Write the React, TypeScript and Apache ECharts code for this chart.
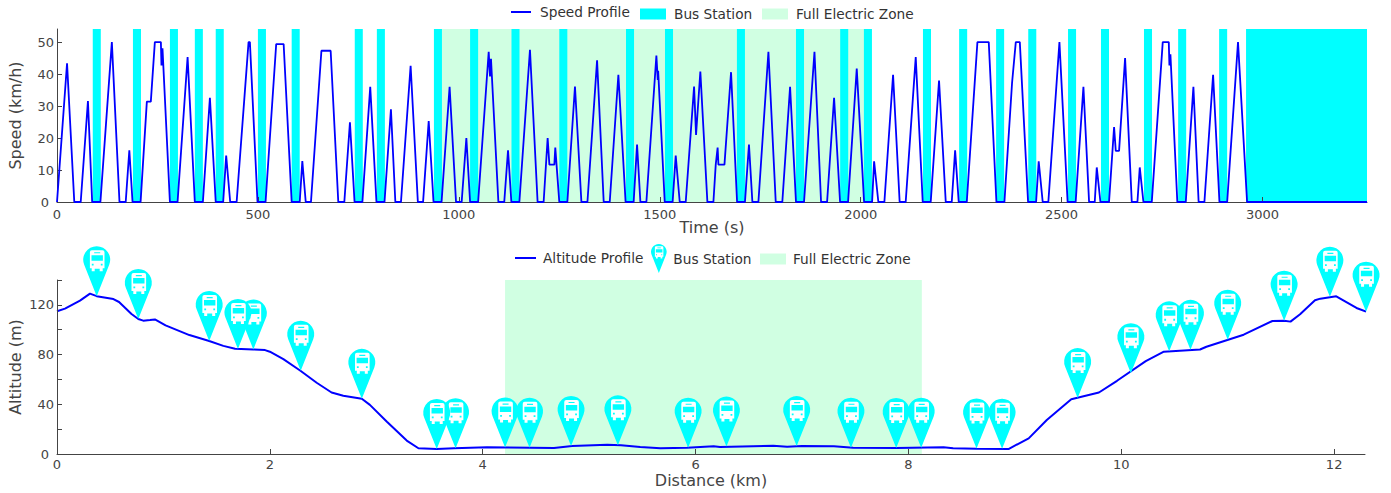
import React, { useEffect, useRef } from "react";
import * as echarts from "echarts";

const FONT = "DejaVu Sans";
const BLUE = "#0000ff";
const CYAN = "#00ffff";
const GREEN = "#d0ffe2";
const INK = "#444444";

const speedProfile = [
  [0,0],[25,43.4],[43,0],[59,0],[77,31.6],[87.5,0],[108,0],[136.5,50],[155.5,0],[171,0],[180,16.2],[188,0],[208,0],
  [223.6,31.4],[233.5,31.4],[243.5,50],[258.5,50],[260,42.7],[262.5,48.1],[264,48.1],[281,0],[300,0],[325,45.3],[343,0],[363,0],
  [380.5,32.6],[395,0],[413.5,0],[421,14.5],[431,0],[447,0],[476.7,50],[480,50],[499,0],[519,0],[545.5,49.4],[564,49.4],[584,0],[604,0],
  [610.5,12.8],[619,0],[632,0],[658,47.3],[681,47.3],[700,0],[715,0],[729,24.9],[740.5,0],[760,0],[779.5,36],[795,0],[815,0],
  [831,29],[842,0],[856,0],[880,42.6],[898,0],[911,0],[925,25.3],[937,0],[957,0],[977,36],[993,0],[1007,0],[1018.7,20],[1028,0],[1048,0],
  [1074.3,47],[1077.6,39.3],[1080,44.8],[1081.5,44.8],[1098.4,0],[1113,0],[1122.4,16.2],[1130.7,0],[1150.6,0],[1177,47.6],[1196,0],[1211,0],
  [1221,20],[1225.3,11.7],[1237.7,11.7],[1240,17],[1250,0],[1270,0],[1289,36.1],[1305,0],[1320,0],[1344,44.3],[1360.5,0],[1375.5,0],
  [1397,39.8],[1415,0],[1435,0],[1443.5,18],[1451.8,0],[1466.7,0],[1491.6,45.8],[1495,38.2],[1496,41],[1512.4,0],[1532,0],
  [1539.7,14.5],[1549.7,0],[1564.6,0],[1585.4,36.1],[1590.3,21],[1601,40.8],[1618.5,0],[1633.5,0],[1639.3,11.7],[1644,17],[1646,11.7],[1661,11.7],
  [1677.4,40.6],[1692.4,0],[1712,0],[1722,18],[1730.5,0],[1745.5,0],[1770.4,47],[1788.6,0],[1805,0],[1824.3,36],[1839,0],[1859,0],
  [1885,47],[1901.4,0],[1916.4,0],[1933.8,32.6],[1948.7,0],[1968.6,0],[1990.2,41.7],[2008.5,0],[2028.4,0],[2033.4,12.7],[2044,0],[2059,0],
  [2080.6,39.8],[2097,0],[2112,0],[2137,45.3],[2154.4,0],[2174.3,0],[2195,38],[2211.7,0],[2226.6,0],[2235,16.2],[2244,0],[2264,0],
  [2290.5,50],[2318.7,50],[2337.8,0],[2357.7,0],[2376.7,37.2],[2386,50],[2396,50],[2416.6,0],[2436.5,0],[2443,12.7],[2453,0],[2467,0],
  [2494.6,50],[2515,0],[2535,0],[2554.3,36],[2568.4,0],[2582.5,0],[2587.5,10.8],[2596.6,0],[2618,0],[2630.6,23.4],[2634.8,16],[2643,16],
  [2658,45],[2674.6,0],[2688.7,0],[2694.5,10.8],[2703.6,0],[2724.4,0],[2751.7,50],[2766.7,50],[2768.3,42.7],[2770.8,46.2],[2772.5,46.2],[2788,0],[2809,0],
  [2828,36],[2841,0],[2855.4,0],[2877,39.8],[2892.8,0],[2912,0],[2939,50],[2961.6,0],[3260,0],
];

const stationSpans = [
  [89,109],[189,209],[281,301],[343,363],[395,415],[500,520],[584,604],[741,761],[796,816],[938,958],
  [1028,1048],[1131,1151],[1250,1270],[1416,1436],[1513,1533],[1692,1712],[1839,1859],[1949,1969],[2008,2028],
  [2155,2175],[2245,2265],[2337,2357],[2417,2437],[2516,2536],[2598,2618],[2705,2725],[2790,2810],[2892,2912],[2959,3260],
];
const zoneSpanTime = [958, 2028];
const timeTicks = [0, 500, 1000, 1500, 2000, 2500, 3000];
const speedTicks = [0, 10, 20, 30, 40, 50];

const altitudeProfile = [
  [0,114.8],[0.075,117],[0.216,123.4],[0.31,129],[0.373,127],[0.53,124.7],[0.583,122.3],[0.7,112.6],[0.764,108.6],[0.81,107.3],[0.874,107.8],[0.92,108.3],
  [1.02,103.5],[1.244,95.7],[1.43,90.9],[1.563,87],[1.673,84.7],[1.845,84.1],[1.955,83.6],[2,82.3],[2.127,76.3],[2.284,67.2],[2.44,57.3],[2.58,49.5],[2.69,46.8],
  [2.864,44.4],[2.94,39.5],[3.1,26],[3.286,10.8],[3.396,4.6],[3.568,4],[3.73,4.6],[4.04,5.4],[4.45,5.1],[4.67,4.8],[4.84,6.5],[5.17,7.5],[5.3,7],[5.48,5.6],[5.67,4.6],
  [5.92,5.1],[6.17,6.2],[6.23,5.6],[6.73,6.7],[6.86,5.9],[7,6.5],[7.3,6.2],[7.48,5.1],[7.89,4.8],[8.33,5.4],[8.42,4.6],[8.64,4.3],[8.94,4],
  [9.13,12.6],[9.3,27.4],[9.53,44],[9.79,49.5],[9.96,58.9],[10.23,74.7],[10.4,82.3],[10.74,84.1],[10.8,86.3],[11.15,96],[11.42,107],[11.53,107.3],[11.59,106.5],
  [11.68,112.4],[11.82,123.7],[11.87,125],[12.02,126.9],[12.21,117.5],[12.3,114.5],
];
const stationKm = [0.373,0.764,1.43,1.7,1.845,2.29,2.864,3.568,3.745,4.21,4.44,4.83,5.27,5.93,6.29,6.95,7.46,7.885,8.12,8.64,8.88,9.59,10.09,10.45,10.65,11,11.53,11.96,12.3];
const stationAlt = [127,108.6,90.9,84.5,84.1,67,44.4,4,4.6,5.2,5,6.5,7,5.1,6,6.4,5.1,4.8,5,4.4,4.2,45,65,82.6,83.8,92,107.3,126.5,114.5];
const zoneSpanKm = [4.21, 8.126];
const kmTicks = [0, 2, 4, 6, 8, 10, 12];
const altTicks = [0, 20, 40, 60, 80, 100, 120, 140];
const altLabels = [0, 40, 80, 120];

const DROP = "M13.5 50L1 18.6A13.5 13.5 0 1 1 26 18.6Z";
const BUS = "M8.7 4Q6.7 4 6.7 6L6.7 22L8.5 22L8.5 25L11.5 25L11.5 22.5L16.5 22.5L16.5 25L19.5 25L19.5 22L21.3 22L21.3 6Q21.3 4 19.3 4Z";
const BUS_MARKS = "M8.3 9L19.7 9L19.7 14.5L8.3 14.5ZM11 6L17 6L17 7.2L11 7.2ZM8.6 17.5L10.4 17.5L10.4 19.3L8.6 19.3ZM17.6 17.5L19.4 17.5L19.4 19.3L17.6 19.3Z";
const PIN_ICON = "path://" + DROP + BUS + BUS_MARKS;

const axisBase = {
  z: 10,
  nameMoveOverlap: false,
  axisLine: { show: true, onZero: false, lineStyle: { color: INK, width: 1 } },
  axisTick: { show: true, inside: true, length: 5, lineStyle: { color: INK, width: 1 } },
  splitLine: { show: false },
  nameTextStyle: { color: INK, fontFamily: FONT, fontSize: 16 },
};
const plain = (v: number) => String(v);
const labelBase = { color: INK, fontFamily: FONT, fontSize: 13, margin: 6, formatter: plain };
const yLabel = {
  ...labelBase,
  margin: 3,
  formatter: (v: number) => (v === 0 ? "{z|0}" : String(v)),
  rich: { z: { color: INK, fontFamily: FONT, fontSize: 13, padding: [0, 5, 0, 0] } },
};

const legendEntry = (name: string, left: number, top: number, w: number, h: number, icon: string, gap: number) => ({
  left,
  top,
  padding: 0,
  itemWidth: w,
  itemHeight: h,
  selectedMode: false,
  data: [{ name, icon }],
  textStyle: { color: "#333333", fontFamily: FONT, fontSize: 13.7, padding: [0, 0, 0, gap] },
});

export default function App() {
  const ref = useRef<HTMLDivElement>(null);
  useEffect(() => {
    const chart = echarts.init(ref.current!, null, { renderer: "svg" });
    chart.setOption({
      animation: false,
      backgroundColor: "#ffffff",
      grid: [
        { left: 57, right: 24, top: 29, height: 173, outerBoundsMode: "none" },
        { left: 57, right: 26, top: 280, height: 174, outerBoundsMode: "none" },
      ],
      legend: [
        legendEntry("Speed Profile", 511, 5, 20, 2, "rect", 4),
        legendEntry("Bus Station", 640, 7, 26, 11, "rect", 3),
        legendEntry("Full Electric Zone", 762, 7, 26, 11, "rect", 3),
        legendEntry("Altitude Profile", 515, 251, 21, 2, "rect", 2),
        legendEntry("Bus Station", 651, 244, 17, 29, PIN_ICON, 1),
        legendEntry("Full Electric Zone", 760, 252, 26, 11, "rect", 2),
      ],
      xAxis: [
        {
          ...axisBase,
          type: "value",
          gridIndex: 0,
          min: 0,
          max: 3260,
          name: "Time (s)",
          nameLocation: "middle",
          nameGap: 17,
          axisTick: { ...axisBase.axisTick, customValues: timeTicks },
          axisLabel: { ...labelBase, customValues: timeTicks },
        },
        {
          ...axisBase,
          type: "value",
          gridIndex: 1,
          min: 0,
          max: 12.29,
          name: "Distance (km)",
          nameLocation: "middle",
          nameGap: 18,
          axisTick: { ...axisBase.axisTick, customValues: kmTicks },
          axisLabel: { ...labelBase, margin: 4, customValues: kmTicks },
        },
      ],
      yAxis: [
        {
          ...axisBase,
          type: "value",
          gridIndex: 0,
          min: 0,
          max: 54.1,
          name: "Speed (km/h)",
          nameLocation: "middle",
          nameGap: 34,
          axisTick: { ...axisBase.axisTick, customValues: speedTicks },
          axisLabel: { ...yLabel, customValues: speedTicks },
        },
        {
          ...axisBase,
          type: "value",
          gridIndex: 1,
          min: 0,
          max: 140,
          name: "Altitude (m)",
          nameLocation: "middle",
          nameGap: 34,
          axisTick: { ...axisBase.axisTick, customValues: altTicks },
          axisLabel: { ...yLabel, customValues: altLabels },
        },
      ],
      series: [
        {
          name: "Full Electric Zone",
          type: "line",
          xAxisIndex: 0,
          yAxisIndex: 0,
          z: 1,
          data: [],
          itemStyle: { color: GREEN },
          markArea: { silent: true, itemStyle: { color: GREEN, opacity: 1 }, data: [[{ xAxis: zoneSpanTime[0] }, { xAxis: zoneSpanTime[1] }]] },
        },
        {
          name: "Bus Station",
          type: "line",
          xAxisIndex: 0,
          yAxisIndex: 0,
          z: 2,
          data: [],
          itemStyle: { color: CYAN },
          markArea: { silent: true, itemStyle: { color: CYAN, opacity: 1 }, data: stationSpans.map(([a, b]) => [{ xAxis: a }, { xAxis: b }]) },
        },
        {
          name: "Speed Profile",
          type: "line",
          xAxisIndex: 0,
          yAxisIndex: 0,
          z: 11,
          clip: false,
          symbol: "none",
          data: speedProfile,
          itemStyle: { color: BLUE },
          lineStyle: { color: BLUE, width: 1.8 },
        },
        {
          name: "Full Electric Zone",
          type: "line",
          xAxisIndex: 1,
          yAxisIndex: 1,
          z: 1,
          data: [],
          itemStyle: { color: GREEN },
          markArea: { silent: true, itemStyle: { color: GREEN, opacity: 1 }, data: [[{ xAxis: zoneSpanKm[0] }, { xAxis: zoneSpanKm[1] }]] },
        },
        {
          name: "Altitude Profile",
          type: "line",
          xAxisIndex: 1,
          yAxisIndex: 1,
          z: 3,
          symbol: "none",
          clip: false,
          data: altitudeProfile,
          itemStyle: { color: BLUE },
          lineStyle: { color: BLUE, width: 2 },
        },
        {
          name: "Bus Station",
          type: "custom",
          xAxisIndex: 1,
          yAxisIndex: 1,
          z: 4,
          silent: true,
          clip: false,
          itemStyle: { color: CYAN },
          encode: { x: 0, y: 1 },
          data: stationKm.map((km, i) => [km, stationAlt[i]]).reverse(),
          renderItem: (_p: unknown, api: any) => {
            const pt = api.coord([api.value(0), api.value(1)]);
            return {
              type: "group",
              x: pt[0] - 13.5,
              y: pt[1] - 50,
              children: [
                { type: "path", shape: { pathData: DROP }, style: { fill: CYAN } },
                { type: "path", shape: { pathData: BUS }, style: { fill: "#ffffff" } },
                { type: "path", shape: { pathData: BUS_MARKS }, style: { fill: CYAN } },
              ],
            };
          },
        },
      ],
    });
    return () => chart.dispose();
  }, []);
  return <div ref={ref} style={{ position: "absolute", left: 0, top: 0, width: 1391, height: 493 }} />;
}
